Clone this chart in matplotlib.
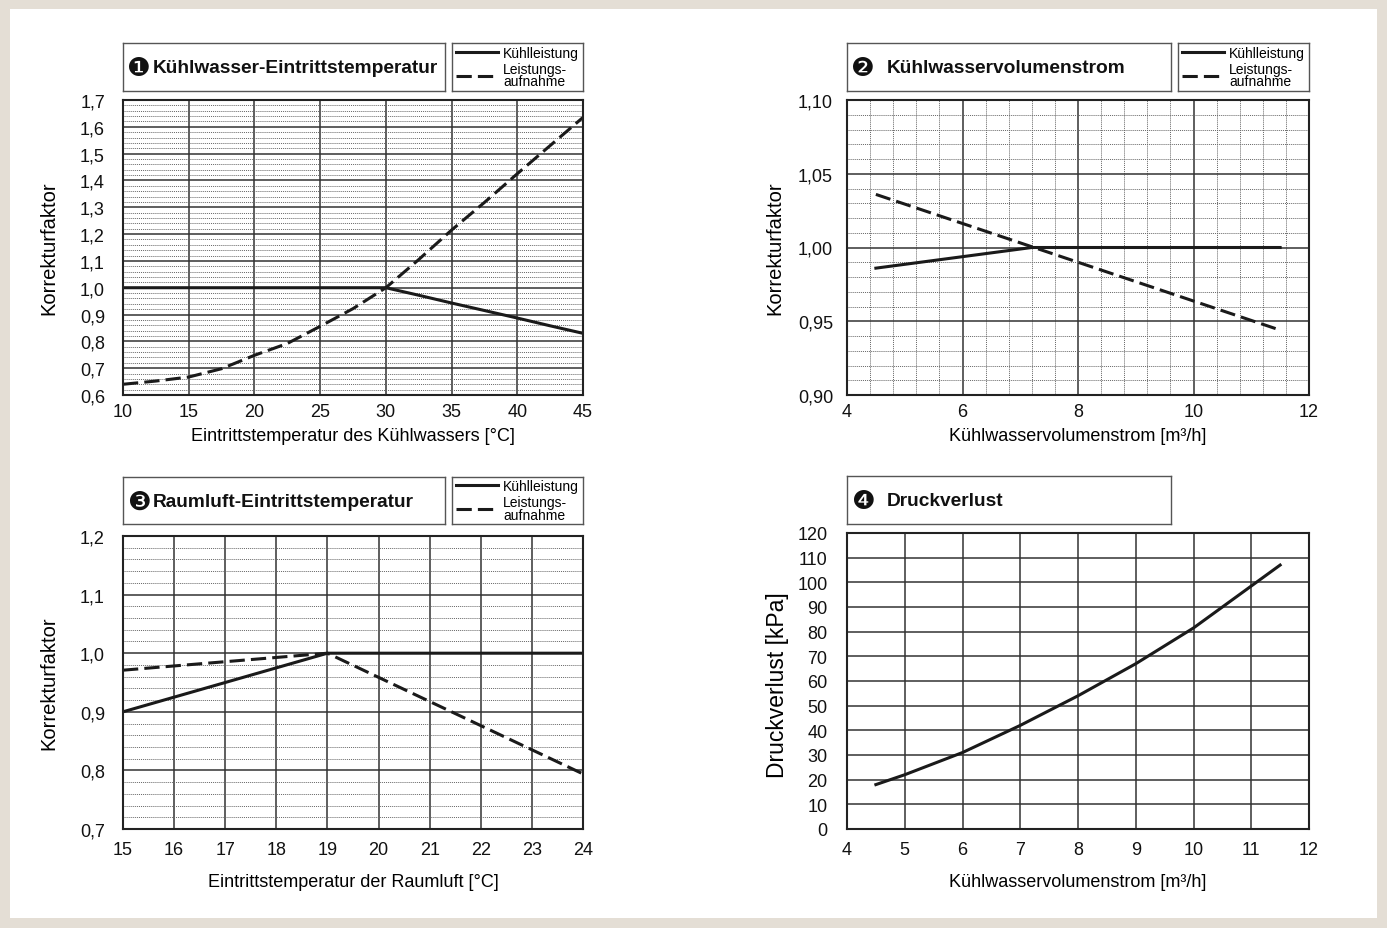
import numpy as np
import matplotlib
matplotlib.use("Agg")
import matplotlib.pyplot as plt
from matplotlib.patches import Rectangle
from matplotlib.ticker import MultipleLocator, FuncFormatter

plt.rcParams['font.family'] = ['Liberation Sans', 'DejaVu Sans']

# --- data ---
p1_x = [10, 12.5, 15, 17.5, 20, 22.5, 25, 27.5, 30, 32.5, 35, 37.5, 40, 42.5, 45]
p1_kuehl = [1.0, 1.0, 1.0, 1.0, 1.0, 1.0, 1.0, 1.0, 1.0, 0.972, 0.943, 0.915, 0.887, 0.858, 0.83]
p1_leist = [0.64, 0.652, 0.667, 0.698, 0.748, 0.792, 0.856, 0.922, 1.0, 1.105, 1.215, 1.318, 1.425, 1.53, 1.635]

p2_x_kuehl = [4.5, 7.2, 11.5]
p2_kuehl = [0.986, 1.0, 1.0]
p2_x_leist = [4.5, 11.5]
p2_leist = [1.036, 0.944]

p3_x = [15, 19, 24]
p3_kuehl = [0.90, 1.0, 1.0]
p3_leist = [0.971, 1.0, 0.794]

p4_x = [4.5, 5, 6, 7, 8, 9, 10, 10.5, 11, 11.5]
p4_dp = [18, 22, 31, 42, 54, 67, 81.5, 90, 98.5, 107]

marks = ["\u2776", "\u2777", "\u2778", "\u2779"]
titles = ["Kühlwasser-Eintrittstemperatur", "Kühlwasservolumenstrom",
          "Raumluft-Eintrittstemperatur", "Druckverlust"]
leg_labels = ["Kühlleistung", "Leistungs-\naufnahme"]

W, H = 1387, 929
fig = plt.figure(figsize=(W / 100, H / 100), dpi=100)
fig.patch.set_facecolor('#e4ded5')
fig.add_artist(Rectangle((10 / W, 10 / H), (W - 20) / W, (H - 20) / H,
                         transform=fig.transFigure, facecolor='white', edgecolor='none', zorder=-1))


def px_axes(x0, y0, x1, y1):
    return fig.add_axes([x0 / W, 1 - y1 / H, (x1 - x0) / W, (y1 - y0) / H])


def comma(dec):
    return FuncFormatter(lambda v, p: f"{v:.{dec}f}".replace('.', ','))


def style(ax, xmaj, ymaj, xmin=None, ymin=None):
    ax.xaxis.set_major_locator(MultipleLocator(xmaj))
    ax.yaxis.set_major_locator(MultipleLocator(ymaj))
    ax.grid(which='major', color='#333333', lw=1.1)
    if xmin:
        ax.xaxis.set_minor_locator(MultipleLocator(xmin))
        ax.grid(which='minor', axis='x', color='#666666', lw=0.7, ls=(0, (1, 1)))
    if ymin:
        ax.yaxis.set_minor_locator(MultipleLocator(ymin))
        ax.grid(which='minor', axis='y', color='#666666', lw=0.7, ls=(0, (1, 1)))
    ax.set_axisbelow(True)
    for s in ax.spines.values():
        s.set_linewidth(1.5)
        s.set_color('#222222')
    ax.tick_params(which='both', length=0, labelsize=13, colors='#111111')


def title_box(x0, y0, x1, y1, mark, txt, gap):
    tb = px_axes(x0, y0, x1, y1)
    tb.set_xticks([])
    tb.set_yticks([])
    for s in tb.spines.values():
        s.set_color('#555555')
        s.set_linewidth(1)
    w = x1 - x0
    tb.text(4 / w, 0.47, mark, transform=tb.transAxes, va='center', ha='left',
            fontsize=19, color='#111111', family='DejaVu Sans')
    tb.text(gap / w, 0.48, txt, transform=tb.transAxes, va='center', ha='left',
            fontsize=13.8, fontweight='bold', color='#111111')
    return tb


def legend_box(x0, y0, x1, y1, handles):
    lb = px_axes(x0, y0, x1, y1)
    lb.set_xticks([])
    lb.set_yticks([])
    for s in lb.spines.values():
        s.set_color('#555555')
        s.set_linewidth(1)
    lg = lb.legend(handles, leg_labels, loc='center', frameon=False, handlelength=3.0,
                   handletextpad=0.4, labelspacing=0.15, borderpad=0.1, fontsize=10)
    for t in lg.get_texts():
        t.set_linespacing(0.85)


lw = 2.2
dash = (5, 2)

# panel 1
ax1 = px_axes(123, 101, 583, 396)
k1, = ax1.plot(p1_x, p1_kuehl, color='#1a1a1a', lw=lw)
l1, = ax1.plot(p1_x, p1_leist, color='#1a1a1a', lw=lw, dashes=dash)
ax1.set_xlim(10, 45)
ax1.set_ylim(0.6, 1.7)
style(ax1, 5, 0.1, ymin=0.02)
ax1.yaxis.set_major_formatter(comma(1))
ax1.tick_params(axis='y', pad=13)
ax1.tick_params(axis='x', pad=6)
ax1.set_xlabel("Eintrittstemperatur des Kühlwassers [°C]", fontsize=13)
ax1.set_ylabel("Korrekturfaktor", fontsize=14.5)
ax1.xaxis.set_label_coords(0.5, -0.11)
ax1.yaxis.set_label_coords(-0.14, 0.5)
title_box(123, 44, 445, 92, marks[0], titles[0], 30)
legend_box(452, 44, 583, 92, [k1, l1])

# panel 2
ax2 = px_axes(847, 101, 1309, 396)
k2, = ax2.plot(p2_x_kuehl, p2_kuehl, color='#1a1a1a', lw=lw)
l2, = ax2.plot(p2_x_leist, p2_leist, color='#1a1a1a', lw=lw, dashes=dash)
ax2.set_xlim(4, 12)
ax2.set_ylim(0.90, 1.10)
style(ax2, 2, 0.05, xmin=0.4, ymin=0.01)
ax2.yaxis.set_major_formatter(comma(2))
ax2.tick_params(axis='y', pad=10)
ax2.tick_params(axis='x', pad=6)
ax2.set_xlabel("Kühlwasservolumenstrom [m³/h]", fontsize=13)
ax2.set_ylabel("Korrekturfaktor", fontsize=14.5)
ax2.xaxis.set_label_coords(0.5, -0.11)
ax2.yaxis.set_label_coords(-0.136, 0.5)
title_box(847, 44, 1171, 92, marks[1], titles[1], 40)
legend_box(1178, 44, 1309, 92, [k2, l2])

# panel 3
ax3 = px_axes(123, 537, 583, 830)
k3, = ax3.plot(p3_x, p3_kuehl, color='#1a1a1a', lw=lw)
l3, = ax3.plot(p3_x, p3_leist, color='#1a1a1a', lw=lw, dashes=dash)
ax3.set_xlim(15, 24)
ax3.set_ylim(0.7, 1.2)
style(ax3, 1, 0.1, ymin=0.02)
ax3.yaxis.set_major_formatter(comma(1))
ax3.tick_params(axis='y', pad=13)
ax3.tick_params(axis='x', pad=9)
ax3.set_xlabel("Eintrittstemperatur der Raumluft [°C]", fontsize=13)
ax3.set_ylabel("Korrekturfaktor", fontsize=14.5)
ax3.xaxis.set_label_coords(0.5, -0.15)
ax3.yaxis.set_label_coords(-0.14, 0.5)
title_box(123, 478, 445, 525, marks[2], titles[2], 30)
legend_box(452, 478, 583, 525, [k3, l3])

# panel 4
ax4 = px_axes(847, 534, 1309, 830)
ax4.plot(p4_x, p4_dp, color='#1a1a1a', lw=lw)
ax4.set_xlim(4, 12)
ax4.set_ylim(0, 120)
style(ax4, 1, 10)
ax4.tick_params(axis='y', pad=14)
ax4.tick_params(axis='x', pad=9)
ax4.set_xlabel("Kühlwasservolumenstrom [m³/h]", fontsize=13)
ax4.set_ylabel("Druckverlust [kPa]", fontsize=16.5)
ax4.xaxis.set_label_coords(0.5, -0.15)
ax4.yaxis.set_label_coords(-0.125, 0.49)
title_box(847, 477, 1171, 525, marks[3], titles[3], 40)

fig.savefig("out.png", dpi=100, facecolor=fig.get_facecolor())
